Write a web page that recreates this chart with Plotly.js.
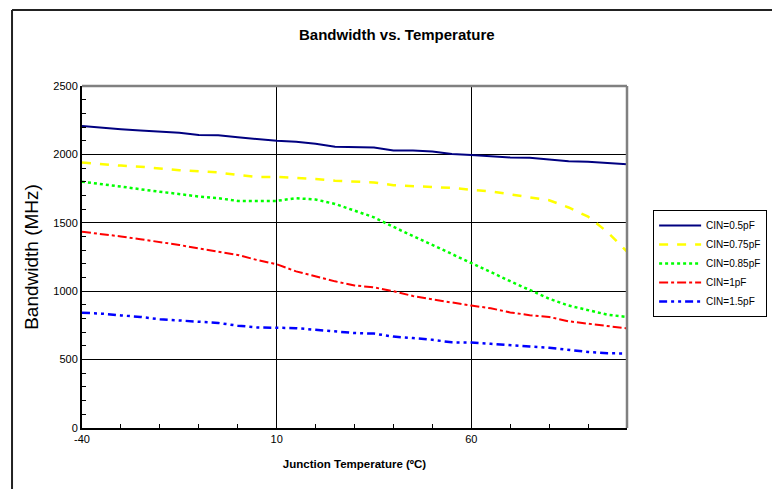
<!DOCTYPE html>
<html>
<head>
<meta charset="utf-8">
<script src="https://cdn.plot.ly/plotly-3.0.1.min.js"></script>
<style>
  html, body { margin: 0; padding: 0; background: #ffffff; }
  #chart { width: 772px; height: 489px; }
</style>
</head>
<body>
<div id="chart"></div>
<script>
// Junction temperature (°C)
const temperature = [-40, -35, -30, -25, -20, -15, -10, -5, 0, 5, 10, 15, 20, 25, 30, 35, 40, 45, 50, 55, 60, 65, 70, 75, 80, 85, 90, 95, 100];

// Bandwidth (MHz) for each input capacitance
const cin05  = [2208, 2195, 2184, 2175, 2168, 2158, 2142, 2140, 2125, 2112, 2100, 2092, 2078, 2056, 2054, 2050, 2029, 2029, 2022, 2003, 1995, 1986, 1978, 1976, 1961, 1950, 1947, 1935, 1928];
const cin075 = [1940, 1928, 1918, 1910, 1896, 1884, 1876, 1868, 1850, 1835, 1835, 1830, 1820, 1808, 1801, 1795, 1775, 1768, 1762, 1755, 1741, 1730, 1708, 1688, 1665, 1612, 1545, 1432, 1290];
const cin085 = [1800, 1785, 1765, 1745, 1727, 1708, 1692, 1680, 1660, 1659, 1660, 1680, 1670, 1638, 1590, 1540, 1470, 1405, 1340, 1270, 1205, 1140, 1073, 1010, 945, 895, 860, 828, 812];
const cin1   = [1435, 1420, 1400, 1380, 1360, 1338, 1312, 1290, 1265, 1228, 1197, 1145, 1108, 1072, 1042, 1028, 1000, 965, 940, 915, 895, 875, 845, 825, 812, 780, 763, 745, 728];
const cin15  = [843, 836, 823, 812, 795, 785, 775, 768, 748, 735, 733, 730, 718, 705, 694, 690, 668, 657, 645, 626, 625, 615, 608, 596, 587, 570, 556, 546, 545];

const seriesNames = ["CIN=0.5pF", "CIN=0.75pF", "CIN=0.85pF", "CIN=1pF", "CIN=1.5pF"];
const xTickVals = [-40, 10, 60];
const xTickText = ["-40", "10", "60"];
const yTickVals = [0, 500, 1000, 1500, 2000, 2500];

const FONT = "Arial, 'Liberation Sans', Helvetica, sans-serif";

const styles = [
  {color: "#000080", width: 2,   dash: "solid"},
  {color: "#FFFF00", width: 2.5, dash: "dash"},
  {color: "#00FF00", width: 2.5, dash: "dot"},
  {color: "#FF0000", width: 2,   dash: "dashdot"},
  {color: "#0000FF", width: 2.5, dash: "8px,4px,3px,4px,3px,4px"}
];
const values = [cin05, cin075, cin085, cin1, cin15];

const traces = values.map((v, i) => ({
  type: "scatter",
  mode: "lines",
  x: temperature,
  y: v,
  name: seriesNames[i],
  line: {color: styles[i].color, width: styles[i].width, dash: styles[i].dash},
  hoverinfo: "x+y"
}));

const layout = {
  width: 772,
  height: 489,
  margin: {l: 82, r: 145, t: 86, b: 61, pad: 0},
  paper_bgcolor: "#ffffff",
  plot_bgcolor: "#ffffff",
  font: {family: FONT, size: 10, color: "#000000"},
  title: {
    text: "<b>Bandwidth vs. Temperature</b>",
    font: {family: FONT, size: 15, color: "#000000"},
    x: 0.514, xanchor: "center",
    y: 0.928, yanchor: "middle"
  },
  xaxis: {
    range: [-40, 100],
    tickmode: "array",
    tickvals: xTickVals,
    ticktext: xTickText,
    ticks: "inside",
    ticklen: 4,
    tickwidth: 1,
    tickcolor: "#000000",
    minor: {dtick: 10, tick0: -40, ticks: "inside", ticklen: 4, tickwidth: 1, tickcolor: "#000000", showgrid: false},
    showgrid: true,
    gridcolor: "#000000",
    gridwidth: 1,
    zeroline: false,
    showline: true,
    linecolor: "#000000",
    linewidth: 2,
    tickfont: {family: FONT, size: 11, color: "#000000"},
    title: {
      text: "<b>Junction Temperature (ºC)</b>",
      font: {family: FONT, size: 11.5, color: "#000000"},
      standoff: 16
    },
    fixedrange: true
  },
  yaxis: {
    range: [0, 2500],
    tickmode: "array",
    tickvals: yTickVals,
    ticks: "inside",
    ticklen: 4,
    tickwidth: 1,
    tickcolor: "#000000",
    minor: {dtick: 100, tick0: 0, ticks: "inside", ticklen: 4, tickwidth: 1, tickcolor: "#000000", showgrid: false},
    showgrid: true,
    gridcolor: "#000000",
    gridwidth: 1,
    zeroline: false,
    showline: true,
    linecolor: "#000000",
    linewidth: 2,
    tickfont: {family: FONT, size: 11, color: "#000000"},
    title: {
      text: "Bandwidth (MHz)",
      font: {family: FONT, size: 19, color: "#000000"},
      standoff: 10
    },
    fixedrange: true
  },
  showlegend: true,
  legend: {
    xref: "container", yref: "container",
    x: 0.846, xanchor: "left",
    y: 0.5706, yanchor: "top",
    bgcolor: "#ffffff",
    bordercolor: "#000000",
    borderwidth: 1,
    font: {family: FONT, size: 10, color: "#000000"},
    tracegroupgap: 0,
    itemwidth: 42,
    entrywidth: 112,
    entrywidthmode: "pixels"
  },
  shapes: [
    // plot area top and right border (gray)
    {type: "line", xref: "paper", yref: "paper", x0: 0, x1: 1, y0: 1, y1: 1, line: {color: "#808080", width: 2.5}},
    {type: "line", xref: "paper", yref: "paper", x0: 1, x1: 1, y0: 0, y1: 1, line: {color: "#808080", width: 2.5}},
    // outer chart frame (left and top)
    {type: "line", xref: "paper", yref: "paper", x0: -0.1284, x1: -0.1284, y0: -0.3, y1: 1.222, line: {color: "#222222", width: 2}},
    {type: "line", xref: "paper", yref: "paper", x0: -0.1284, x1: 1.5, y0: 1.222, y1: 1.222, line: {color: "#222222", width: 2}}
  ]
};

Plotly.newPlot("chart", traces, layout, {displayModeBar: false, staticPlot: true});
</script>
</body>
</html>
